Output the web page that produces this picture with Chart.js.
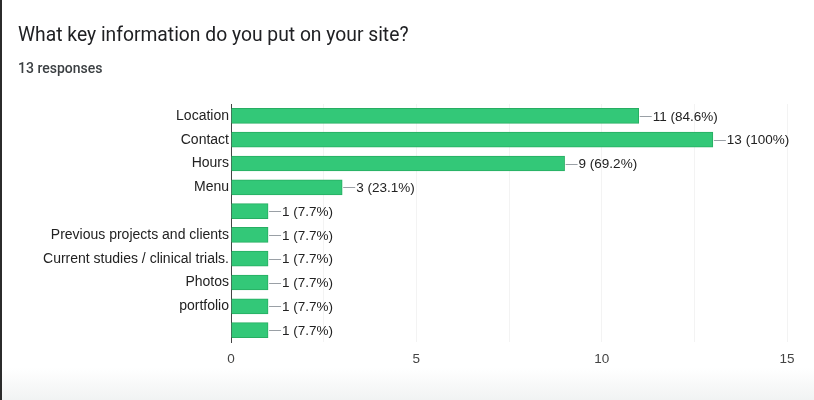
<!DOCTYPE html>
<html>
<head>
<meta charset="utf-8">
<script src="https://cdn.jsdelivr.net/npm/chart.js@4.4.1/dist/chart.umd.min.js"></script>
<style>
  html, body { margin:0; padding:0; background:#fff; }
  #wrap { position:relative; width:814px; height:400px; overflow:hidden; background:#fff; }
  #leftbar { position:absolute; left:0; top:0; width:2px; height:400px; background:#2b2b2b; }
  #bottomband { position:absolute; left:0; top:368px; width:814px; height:32px;
    background:linear-gradient(#ffffff, #f1f3f3); }
  #title { position:absolute; left:18px; top:23px; font-family:Roboto, "Noto Sans", sans-serif;
    font-size:19.3px; color:#202124; white-space:nowrap; }
  #sub { position:absolute; left:18px; top:60px; font-family:Roboto, "Noto Sans", sans-serif;
    font-size:14px; font-weight:500; color:#3c4043; white-space:nowrap; }
  #cv { position:absolute; left:0; top:0; }
</style>
</head>
<body>
<div id="wrap">
  <div id="bottomband"></div>
  <canvas id="cv" width="814" height="400"></canvas>
  <div id="leftbar"></div>
  <div id="title">What key information do you put on your site?</div>
  <div id="sub">13 responses</div>
</div>
<script>
const categories = ["Location", "Contact", "Hours", "Menu", "", "Previous projects and clients",
  "Current studies / clinical trials.", "Photos", "portfolio", " "];
const counts = [11, 13, 9, 3, 1, 1, 1, 1, 1, 1];
const percents = ["84.6%", "100%", "69.2%", "23.1%", "7.7%", "7.7%", "7.7%", "7.7%", "7.7%", "7.7%"];
const xTickValues = [0, 5, 10, 15];

const labelPlugin = {
  id: 'barLabels',
  afterDatasetsDraw(chart) {
    const ctx = chart.ctx;
    const meta = chart.getDatasetMeta(0);
    ctx.save();
    meta.data.forEach((bar, i) => {
      const x = bar.x, y = bar.y;
      ctx.strokeStyle = '#9aa0a6';
      ctx.lineWidth = 1;
      ctx.beginPath();
      ctx.moveTo(x + 1, Math.round(y) + 0.5);
      ctx.lineTo(x + 13, Math.round(y) + 0.5);
      ctx.stroke();
      ctx.fillStyle = '#222';
      ctx.font = '13.5px "Liberation Sans", Arial, sans-serif';
      ctx.textAlign = 'left';
      ctx.textBaseline = 'middle';
      ctx.fillText(counts[i] + ' (' + percents[i] + ')', x + 14, y + 1);
    });
    ctx.restore();
  }
};

new Chart(document.getElementById('cv'), {
  type: 'bar',
  data: {
    labels: categories,
    datasets: [{
      data: counts,
      backgroundColor: '#33c878',
      borderColor: '#27ae62',
      borderWidth: 1,
      borderSkipped: 'left',
      barThickness: 15,
      categoryPercentage: 1,
      barPercentage: 1
    }]
  },
  plugins: [labelPlugin],
  options: {
    indexAxis: 'y',
    responsive: false,
    animation: false,
    devicePixelRatio: 1,
    layout: { padding: { top: 104, right: 27, left: 0, bottom: 0 } },
    plugins: { legend: { display: false }, tooltip: { enabled: false } },
    scales: {
      x: {
        min: 0, max: 15,
        afterFit(scale) { scale.height = 58; },
        afterBuildTicks(scale) {
          scale.ticks = [0, 2.5, 5, 7.5, 10, 12.5, 15].map(v => ({ value: v }));
        },
        ticks: {
          padding: 9,
          color: '#444',
          font: { family: '"Liberation Sans", Arial, sans-serif', size: 13.5 },
          callback: (v) => xTickValues.includes(v) ? String(v) : ''
        },
        grid: { color: '#f3f3f3', drawTicks: false },
        border: { display: false }
      },
      y: {
        afterFit(scale) { scale.width = 231; },
        ticks: {
          padding: 2,
          color: '#222',
          autoSkip: false,
          font: { family: '"Liberation Sans", Arial, sans-serif', size: 14 }
        },
        grid: { display: false, drawTicks: false },
        border: { display: true, color: '#444', width: 1 }
      }
    }
  }
});
</script>
</body>
</html>
